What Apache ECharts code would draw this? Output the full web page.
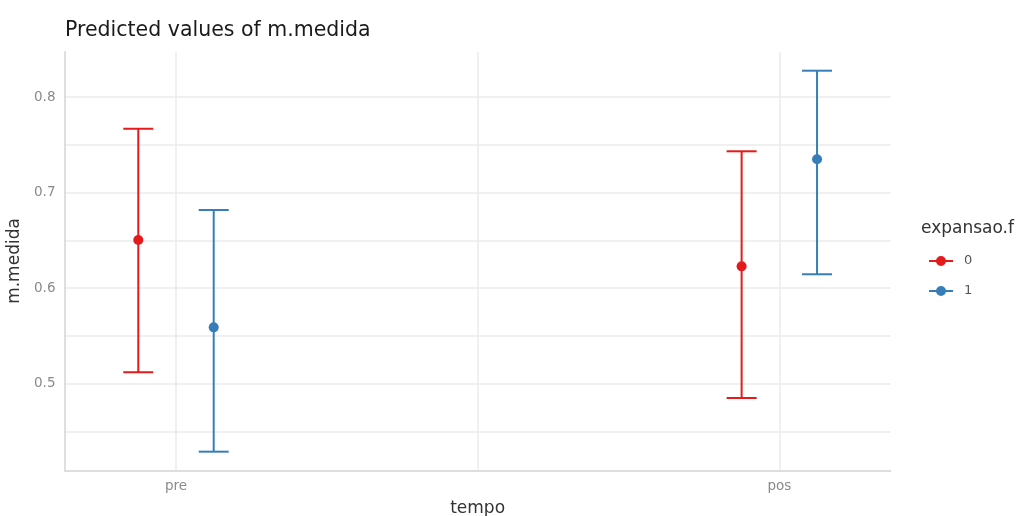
<!DOCTYPE html>
<html>
<head>
<meta charset="utf-8">
<script src="https://cdn.jsdelivr.net/npm/echarts@6/dist/echarts.min.js"></script>
<style>html,body{margin:0;padding:0;background:#fff;}#c{width:1019px;height:516px;}</style>
</head>
<body>
<div id="c"></div>
<script>
// ---- data ----
const categories = ['pre', 'pos'];
const groups = ['0', '1'];
const predicted0 = [0.6505, 0.6229];
const lower0 = [0.512, 0.485];
const upper0 = [0.767, 0.7434];
const predicted1 = [0.559, 0.735];
const lower1 = [0.4288, 0.6146];
const upper1 = [0.6819, 0.8278];
const yTicks = [0.5, 0.6, 0.7, 0.8];
const yGrid = [0.45, 0.5, 0.55, 0.6, 0.65, 0.7, 0.75, 0.8];

const colors = ['#E41A1C', '#377EB8'];
const dodge = [-0.0625, 0.0625];
const preds = [predicted0, predicted1];
const lows = [lower0, lower1];
const highs = [upper0, upper1];
const FONT = 'DejaVu Sans, sans-serif';

const chart = echarts.init(document.getElementById('c'), null, {renderer: 'canvas'});

function errRender(params, api) {
  const x = api.value(0);
  const lo = api.coord([x, api.value(1)]);
  const hi = api.coord([x, api.value(2)]);
  const hw = 15;
  const style = {stroke: api.visual('color'), lineWidth: 2, fill: null};
  return {
    type: 'group',
    children: [
      {type: 'line', shape: {x1: lo[0], y1: lo[1], x2: hi[0], y2: hi[1]}, style: style},
      {type: 'line', shape: {x1: hi[0] - hw, y1: hi[1], x2: hi[0] + hw, y2: hi[1]}, style: style},
      {type: 'line', shape: {x1: lo[0] - hw, y1: lo[1], x2: lo[0] + hw, y2: lo[1]}, style: style}
    ]
  };
}

const series = [];
groups.forEach((g, gi) => {
  series.push({
    type: 'custom',
    name: g,
    color: colors[gi],
    renderItem: errRender,
    encode: {x: 0, y: [1, 2]},
    data: categories.map((c, i) => [i + 1 + dodge[gi], lows[gi][i], highs[gi][i]]),
    z: 2
  });
});
groups.forEach((g, gi) => {
  series.push({
    type: 'scatter',
    name: g,
    color: colors[gi],
    symbolSize: 10,
    itemStyle: {color: colors[gi], opacity: 1},
    data: categories.map((c, i) => [i + 1 + dodge[gi], preds[gi][i]]),
    z: 3
  });
});

const legendIcon = 'path://M0,4 L24,4 L24,6 L0,6 Z M17,5 A5,5 0 1 1 7,5 A5,5 0 1 1 17,5 Z';

chart.setOption({
  animation: false,
  backgroundColor: '#ffffff',
  title: [
    {text: 'Predicted values of m.medida', left: 60, top: 15,
     textStyle: {fontFamily: FONT, fontSize: 20.5, fontWeight: 'normal', color: '#1a1a1a'}},
    {text: 'expansao.f', left: 916, top: 215,
     textStyle: {fontFamily: FONT, fontSize: 17, fontWeight: 'normal', color: '#333333'}}
  ],
  legend: {
    data: groups,
    orient: 'vertical',
    left: 924,
    top: 249.5,
    itemWidth: 24,
    itemHeight: 10,
    itemGap: 17,
    icon: legendIcon,
    textStyle: {fontFamily: FONT, fontSize: 13, color: '#555555', padding: [0, 0, 0, 6]}
  },
  grid: {left: 64.5, right: 128.3, top: 51.7, bottom: 45.7, containLabel: false, outerBoundsMode: 'none'},
  xAxis: {
    type: 'value',
    min: 0.8152,
    max: 2.1846,
    name: 'tempo',
    nameLocation: 'middle',
    nameGap: 30,
    nameTextStyle: {fontFamily: FONT, fontSize: 17, color: '#333333'},
    axisLine: {show: true, lineStyle: {color: '#d4d4d4', width: 1.5}},
    axisTick: {show: false, customValues: [1, 1.5, 2]},
    axisLabel: {
      customValues: [1, 2],
      formatter: v => categories[Math.round(v) - 1] || '',
      margin: 9,
      fontFamily: FONT, fontSize: 13.5, color: '#8a8a8a'
    },
    splitLine: {show: true, lineStyle: {color: '#ebebeb', width: 1.5}}
  },
  yAxis: {
    type: 'value',
    min: 0.4093,
    max: 0.8477,
    name: 'm.medida',
    nameLocation: 'middle',
    nameGap: 35,
    nameRotate: 90,
    nameTextStyle: {fontFamily: FONT, fontSize: 17, color: '#333333'},
    axisLine: {show: true, lineStyle: {color: '#d4d4d4', width: 1.5}},
    axisTick: {show: false, customValues: yGrid},
    axisLabel: {
      customValues: yTicks,
      formatter: v => v.toFixed(1),
      margin: 9,
      fontFamily: FONT, fontSize: 13.5, color: '#8a8a8a'
    },
    splitLine: {show: true, lineStyle: {color: '#ebebeb', width: 1.5}}
  },
  series: series
});
</script>
</body>
</html>
